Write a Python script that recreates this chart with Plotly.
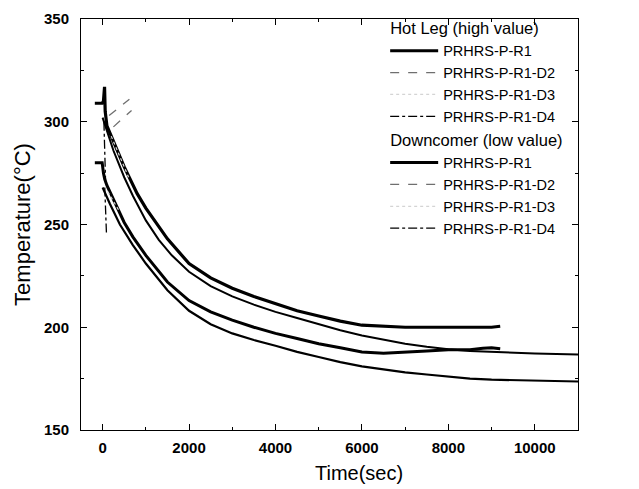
import plotly.graph_objects as go

# ---------------- data ----------------
hot_r1_time = [-180, -10, 20, 45, 60, 80, 100, 200, 300, 500, 800, 1000, 1500, 2000, 2500, 3000,
               3500, 4000, 4500, 5000, 5500, 6000, 6500, 7000, 7500, 8000, 8500, 9000, 9200]
hot_r1_temp = [309, 309, 310, 317, 305, 300, 298, 293, 288, 278, 265, 258, 243, 231, 224, 219,
               215, 211.5, 208, 205.5, 203, 201, 200.5, 200, 200, 200, 200, 200, 200.5]

hot_long_time = [0, 100, 250, 500, 700, 1000, 1300, 1600, 2000, 2500, 3000, 3500, 4000, 4500, 5000,
                 5500, 6000, 6500, 7000, 7500, 8000, 8500, 9000, 9500, 10000, 10500, 11000]
hot_long_temp = [302, 296, 286, 273, 264, 252, 242.5, 235, 227, 220, 215, 211, 207.5, 204.5, 201.5,
                 198.5, 196, 194, 192, 190.5, 189.3, 188.5, 188, 187.5, 187.2, 187, 186.8]

dc_r1_time = [-180, -10, 20, 50, 100, 300, 500, 700, 1000, 1500, 2000, 2500, 3000, 3500, 4000,
              4500, 5000, 5500, 6000, 6500, 7000, 7500, 8000, 8500, 8800, 9000, 9200]
dc_r1_temp = [280, 280, 275, 272, 269, 260, 251, 244, 235, 222, 213, 207.5, 203.5, 200, 197,
              194.5, 192, 190, 188, 187.3, 188, 188.5, 189, 189, 189.8, 190, 189.5]

dc_long_time = [0, 100, 170, 400, 700, 1000, 1500, 2000, 2500, 3000, 3500, 4000, 4500, 5000,
                5500, 6000, 6500, 7000, 7500, 8000, 8500, 9000, 9500, 10000, 10500, 11000]
dc_long_temp = [268, 263, 260, 250, 240, 231, 218, 208, 201.5, 197, 193.8, 191, 188, 185.5,
                183, 181, 179.5, 178, 177, 176, 175, 174.5, 174.2, 174, 173.8, 173.6]

hot_d2_time = [150, 620]
hot_d2_temp = [303, 311]
dc_d2_time = [250, 670]
dc_d2_temp = [297.5, 305.5]

hot_d3_time = [200, 600]
hot_d3_temp = [293, 273]
dc_d3_time = [120, 400]
dc_d3_temp = [266, 256]

hot_d4_time = [30, 50, 70]
hot_d4_temp = [300, 285, 270]
dc_d4_time = [50, 70, 90]
dc_d4_temp = [268, 256, 245]

legend_label = ["PRHRS-P-R1", "PRHRS-P-R1-D2", "PRHRS-P-R1-D3", "PRHRS-P-R1-D4"]
x_ticks = [0, 2000, 4000, 6000, 8000, 10000]
x_tick_text = ["0", "2000", "4000", "6000", "8000", "10000"]
y_ticks = [150, 200, 250, 300, 350]

FONT = "Liberation Sans, Arial, sans-serif"

fig = go.Figure()

def add(x, y, name, group, title, color, width, dash, show=True):
    fig.add_trace(go.Scatter(
        x=x, y=y, mode="lines", name=name, legendgroup=group,
        legendgrouptitle=dict(text=title, font=dict(size=16.5, family=FONT, color="black")) if title else None,
        showlegend=show,
        line=dict(color=color, width=width, dash=dash),
        hoverinfo="skip"))

# Hot leg group
add(hot_r1_time, hot_r1_temp, legend_label[0], "hot", "Hot Leg (high value)", "black", 3.2, "solid")
add(hot_d2_time, hot_d2_temp, legend_label[1], "hot", None, "#6f6f6f", 1.3, "dash")
add(hot_d3_time, hot_d3_temp, legend_label[2], "hot", None, "#d4d4d4", 1.2, "dot")
add(hot_d4_time, hot_d4_temp, legend_label[3], "hot", None, "black", 1.3, "dashdot")
# Downcomer group
add(dc_r1_time, dc_r1_temp, legend_label[0], "dc", "Downcomer (low value)", "black", 3.0, "solid")
add(dc_d2_time, dc_d2_temp, legend_label[1], "dc", None, "#6f6f6f", 1.3, "dash")
add(dc_d3_time, dc_d3_temp, legend_label[2], "dc", None, "#d4d4d4", 1.2, "dot")
add(dc_d4_time, dc_d4_temp, legend_label[3], "dc", None, "black", 1.3, "dashdot")
# long-run curves
add(hot_long_time, hot_long_temp, "hot long", "x1", None, "black", 2.0, "solid", show=False)
add(dc_long_time, dc_long_temp, "dc long", "x2", None, "black", 2.2, "solid", show=False)

axis_common = dict(
    showline=True, linecolor="black", linewidth=1, mirror="ticks",
    ticks="inside", ticklen=6, tickwidth=1, tickcolor="black",
    showgrid=False, zeroline=False,
    tickfont=dict(size=15, family=FONT, color="black", weight="bold"),
)

fig.update_xaxes(
    range=[-500, 11000], tickvals=x_ticks, ticktext=x_tick_text,
    minor=dict(dtick=1000, tick0=0, ticks="inside", ticklen=3, tickcolor="black"),
    ticklabelstandoff=4,
    **axis_common)
fig.update_yaxes(
    range=[150, 350], tickvals=y_ticks,
    minor=dict(dtick=25, tick0=150, ticks="inside", ticklen=3, tickcolor="black"),
    title=dict(text="Temperature(°C)", font=dict(size=22, family=FONT, color="black"), standoff=7),
    ticklabelstandoff=8,
    **axis_common)

fig.add_annotation(
    text="Time(sec)", xref="paper", yref="paper", x=0.559, y=-0.105,
    xanchor="center", yanchor="middle", showarrow=False,
    font=dict(size=20, family=FONT, color="black"))

fig.update_layout(
    width=639, height=489,
    margin=dict(l=81, r=61, t=19, b=59, autoexpand=False),
    paper_bgcolor="white", plot_bgcolor="white",
    font=dict(family=FONT, color="black"),
    legend=dict(
        x=0.612, y=1.021, xanchor="left", yanchor="top",
        bgcolor="rgba(0,0,0,0)", borderwidth=0,
        font=dict(size=14.5, family=FONT, color="black"),
        tracegroupgap=0, itemwidth=48, groupclick="toggleitem",
    ),
    showlegend=True,
)

fig.write_html("out.html")
